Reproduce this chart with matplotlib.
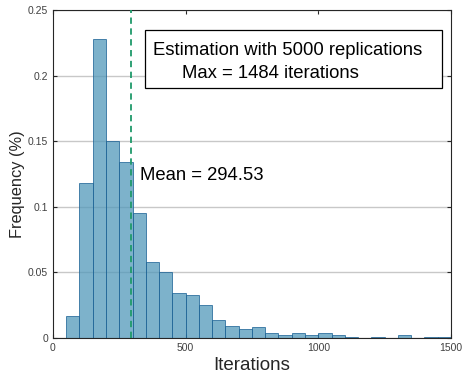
import numpy as np
import matplotlib
matplotlib.use("Agg")
import matplotlib.pyplot as plt
from matplotlib.patches import Rectangle

plt.rcParams['font.family'] = ['Liberation Sans', 'DejaVu Sans']

# histogram bins (width 50), heights
bin_left = np.arange(50, 1500, 50)
freq = [0.017, 0.118, 0.228, 0.150, 0.134, 0.0955, 0.058, 0.050, 0.034, 0.033,
        0.025, 0.0137, 0.009, 0.007, 0.0084, 0.004, 0.0023, 0.004, 0.0023, 0.004,
        0.0023, 0.0004, 0.0002, 0.0004, 0.0002, 0.0023, 0.0002, 0.0004, 0.0006]
mean_val = 294.53
x_ticks = [0, 500, 1000, 1500]
y_ticks = [0, 0.05, 0.1, 0.15, 0.2, 0.25]
y_ticklabels = ["0", "0.05", "0.1", "0.15", "0.2", "0.25"]

fig = plt.figure(figsize=(4.64, 3.76), dpi=100)
ax = fig.add_axes([0.114, 0.101, 0.858, 0.872])

ax.bar(bin_left, freq, width=50, align='edge', color=(0.32, 0.597, 0.728),
       alpha=0.75, edgecolor=(0.1, 0.38, 0.58), linewidth=0.7, zorder=2)
ax.axvline(mean_val, color='#1f9a6a', linestyle=(0, (3.5, 2.5)), linewidth=1.3, zorder=3)

ax.set_xlim(0, 1500)
ax.set_ylim(0, 0.25)
ax.set_xticks(x_ticks)
ax.set_yticks(y_ticks)
ax.set_yticklabels(y_ticklabels)
ax.grid(axis='y', color='#c8c8c8', linewidth=1.0, zorder=0)
ax.set_axisbelow(True)
ax.tick_params(direction='in', top=True, right=True, labelsize=7.5,
               labelcolor='#404040', length=3, color='#262626')
for s in ax.spines.values():
    s.set_color('#262626')
    s.set_linewidth(0.8)

ax.set_xlabel("Iterations", fontsize=13.5, color='#262626', labelpad=3)
ax.set_ylabel("Frequency (%)", fontsize=11.8, color='#262626')
ax.yaxis.set_label_coords(-0.07, 0.47)

ax.text(328, 0.1242, "Mean = %.2f" % mean_val, fontsize=13.3, va='center', ha='left', zorder=4)

# annotation box
ax.add_patch(Rectangle((346.7, 0.1905), 1466 - 346.7, 0.2348 - 0.1905,
                       facecolor='white', edgecolor='black', linewidth=0.9, zorder=4))
ax.text(377, 0.2195, "Estimation with 5000 replications", fontsize=13.3,
        ha='left', va='center', zorder=5)
ax.text(486, 0.202, "Max = 1484 iterations", fontsize=13.3,
        ha='left', va='center', zorder=5)

fig.savefig("out.png", dpi=100)
